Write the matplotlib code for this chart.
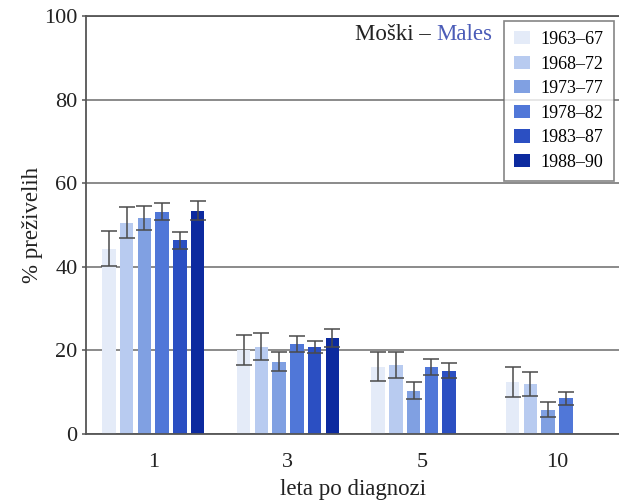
import matplotlib.pyplot as plt
import numpy as np

plt.rcParams['font.family'] = ['Liberation Serif', 'DejaVu Serif']

# years after diagnosis
groups = ['1', '3', '5', '10']
periods = ['1963–67', '1968–72', '1973–77', '1978–82', '1983–87', '1988–90']
colors = ['#e4ebf8', '#b8cbf0', '#80a0e2', '#5077d8', '#2b4fc2', '#0c2a9f']

# survival % per period, one value per group (None = no data)
surv = {
    '1963–67': [44.3, 20.0, 16.1, 12.4],
    '1968–72': [50.5, 20.9, 16.6, 11.9],
    '1973–77': [51.7, 17.3, 10.4, 5.8],
    '1978–82': [53.2, 21.6, 16.0, 8.5],
    '1983–87': [46.3, 20.8, 15.1, None],
    '1988–90': [53.4, 23.0, None, None],
}
err = {
    '1963–67': [4.2, 3.6, 3.5, 3.6],
    '1968–72': [3.7, 3.2, 3.1, 2.9],
    '1973–77': [2.8, 2.3, 2.0, 1.8],
    '1978–82': [2.1, 1.9, 1.9, 1.6],
    '1983–87': [2.1, 1.5, 1.8, None],
    '1988–90': [2.3, 2.2, None, None],
}

fig = plt.figure(figsize=(6.19, 5), dpi=100)
ax = fig.add_axes([0.139, 0.132, 0.861, 0.836])

x = np.arange(len(groups))
step = 0.132
width = 0.10
for i, p in enumerate(periods):
    xs, ys, es = [], [], []
    for g in range(len(groups)):
        if surv[p][g] is not None:
            xs.append(x[g] + (i - 2.5) * step)
            ys.append(surv[p][g])
            es.append(err[p][g])
    ax.bar(xs, ys, width, color=colors[i], label=p, zorder=2)
    ax.errorbar(xs, ys, yerr=es, fmt='none', ecolor='#4a4a4a',
                elinewidth=1.1, capsize=5.5, capthick=1.1, zorder=3)

ax.set_xlim(-0.5, 3.46)
ax.set_ylim(0, 100)
ax.set_yticks([0, 20, 40, 60, 80, 100])
ax.set_xticks(x)
ax.set_xticklabels(groups)
ax.tick_params(axis='both', labelsize=16, colors='#222222')
ax.tick_params(axis='y', length=3, width=1.1, color='#555555', pad=3)
ax.tick_params(axis='x', length=0, pad=14)
ax.yaxis.grid(True, color='#777777', linewidth=1.2, zorder=0)
ax.set_axisbelow(True)
ax.spines['right'].set_visible(False)
for s in ['left', 'bottom', 'top']:
    ax.spines[s].set_color('#555555')
    ax.spines[s].set_linewidth(1.3)

ax.set_ylabel('% preživelih', fontsize=16.5, color='#222222', labelpad=1)
ax.set_xlabel('leta po diagnozi', fontsize=16.5, color='#222222', labelpad=5)

leg = ax.legend(loc='upper right', bbox_to_anchor=(0.99, 0.988),
                fontsize=13, frameon=True, fancybox=False, edgecolor='#666666',
                handlelength=0.9, handleheight=0.75, handletextpad=0.6,
                labelspacing=0.42, borderpad=0.55, borderaxespad=0)
leg.get_frame().set_linewidth(1.2)

# title inside the plot: black + blue part
t2 = ax.text(0.762, 0.955, 'Males', transform=ax.transAxes, ha='right',
             va='center', fontsize=16.5, color='#4b5cb8')
fig.canvas.draw()
bb = t2.get_window_extent()
x0 = ax.transAxes.inverted().transform((bb.x0, bb.y0))[0]
ax.text(x0, 0.955, 'Moški – ', transform=ax.transAxes, ha='right',
        va='center', fontsize=16.5, color='#222222')

fig.savefig('out.png', dpi=100)
